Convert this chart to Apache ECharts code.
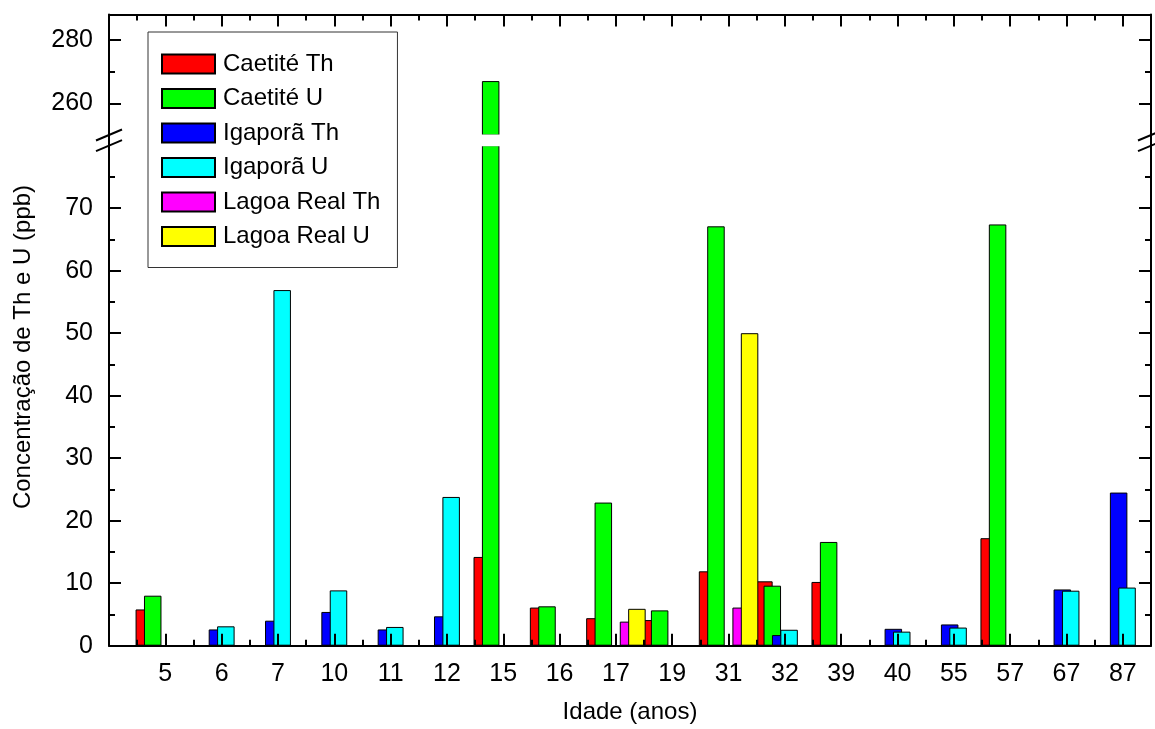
<!DOCTYPE html>
<html>
<head>
<meta charset="utf-8">
<script src="https://cdn.jsdelivr.net/npm/echarts@6/dist/echarts.min.js"></script>
<style>
  html, body { margin: 0; padding: 0; background: #fff; }
  #chart { width: 1155px; height: 729px; }
</style>
</head>
<body>
<div id="chart"></div>
<script>
// Ages (years) on the category axis
const ages = ['5', '6', '7', '10', '11', '12', '15', '16', '17', '19', '31', '32', '39', '40', '55', '57', '67', '87'];

// Th and U concentrations (ppb) per locality, one entry per age
const caetiteTh  = [5.8, null, null, null, null, null, 14.2, 6.1, 4.4, 4.1, 11.9, 10.3, 10.2, null, null, 17.2, null, null];
const caetiteU   = [8.0, null, null, null, null, null, 267.0, 6.3, 22.9, 5.65, 67.1, 9.6, 16.6, null, null, 67.4, null, null];
const igaporaTh  = [null, 2.6, 4.0, 5.4, 2.6, 4.7, null, null, null, null, null, 1.7, null, 2.7, 3.4, null, 9.0, 24.5];
const igaporaU   = [null, 3.1, 56.9, 8.85, 3.0, 23.8, null, null, null, null, null, 2.55, null, 2.25, 2.9, null, 8.8, 9.3];
const lagoaRealTh = [null, null, null, null, null, null, null, null, 3.85, null, 6.1, null, null, null, null, null, null, null];
const lagoaRealU  = [null, null, null, null, null, null, null, null, 5.9, null, 50.0, null, null, null, null, null, null, null];

// Tick values of the broken y axis
const lowerMajorTicks = [0, 10, 20, 30, 40, 50, 60, 70];
const lowerMinorTicks = [5, 15, 25, 35, 45, 55, 65, 75];
const upperMajorTicks = [260, 280];
const upperMinorTicks = [270];
const lowerRange = [0, 80];
const upperRange = [250, 288];

const FONT = "'Liberation Sans', Arial, sans-serif";

// Plot frame (pixels): upper and lower panels separated by the axis break
const frame = { left: 109, right: 1151, top: 14.5, breakTop: 135, breakBottom: 145.7, bottom: 645.7 };

const seriesDefs = [
  { name: 'Caetité Th',    color: '#ff0000', values: caetiteTh },
  { name: 'Caetité U',     color: '#00ff00', values: caetiteU },
  { name: 'Igaporã Th',    color: '#0000ff', values: igaporaTh },
  { name: 'Igaporã U',     color: '#00ffff', values: igaporaU },
  { name: 'Lagoa Real Th', color: '#ff00ff', values: lagoaRealTh },
  { name: 'Lagoa Real U',  color: '#ffff00', values: lagoaRealU }
];

// Category slots on a numeric x axis: age i sits at position i + 1
const majorX = ages.map((_, i) => i + 1);
const minorX = ages.map((_, i) => i + 0.5).concat([ages.length + 0.5]);
const xExtent = [0, ages.length + 0.5];

const axisLine = { show: true, lineStyle: { color: '#000', width: 2 } };
const tickLine = { color: '#000', width: 2 };

function xAxis(gridIndex, position, ticks, len, withLabels, extra) {
  return Object.assign({
    type: 'value', gridIndex, position, min: xExtent[0], max: xExtent[1], z: 5,
    axisLine: withLabels !== null ? axisLine : { show: false },
    splitLine: { show: false },
    axisTick: { show: true, inside: true, length: len, customValues: ticks, lineStyle: tickLine },
    axisLabel: withLabels ? {
      show: true, customValues: ticks, margin: 16, fontSize: 25, fontFamily: FONT, color: '#000',
      formatter: v => ages[v - 1] ?? ''
    } : { show: false }
  }, extra || {});
}

function yAxis(gridIndex, position, range, ticks, len, withLabels, withLine) {
  return {
    type: 'value', gridIndex, position, min: range[0], max: range[1], z: 5,
    axisLine: withLine ? axisLine : { show: false },
    splitLine: { show: false },
    axisTick: { show: true, inside: true, length: len, customValues: ticks, lineStyle: tickLine },
    axisLabel: withLabels ? {
      show: true, customValues: ticks, margin: 16, fontSize: 25, fontFamily: FONT, color: '#000'
    } : { show: false }
  };
}

const xAxes = [
  xAxis(0, 'top', majorX, 12, false),
  xAxis(0, 'top', minorX, 6, null),
  xAxis(1, 'bottom', majorX, 12, true, {
    name: 'Idade (anos)', nameLocation: 'middle', nameGap: 55,
    nameTextStyle: { fontSize: 24, fontFamily: FONT, color: '#000' }
  }),
  xAxis(1, 'bottom', minorX, 6, null)
];

const yAxes = [
  yAxis(0, 'left', upperRange, upperMajorTicks, 12, true, true),
  yAxis(0, 'left', upperRange, upperMinorTicks, 6, false, false),
  yAxis(0, 'right', upperRange, upperMajorTicks, 12, false, true),
  yAxis(0, 'right', upperRange, upperMinorTicks, 6, false, false),
  yAxis(1, 'left', lowerRange, lowerMajorTicks, 12, true, true),
  yAxis(1, 'left', lowerRange, lowerMinorTicks, 6, false, false),
  yAxis(1, 'right', lowerRange, lowerMajorTicks, 12, false, true),
  yAxis(1, 'right', lowerRange, lowerMinorTicks, 6, false, false)
];

function barSeries(def, xAxisIndex, yAxisIndex) {
  return {
    type: 'bar', name: def.name, xAxisIndex, yAxisIndex,
    data: def.values.map((v, i) => [i + 1, v]),
    barWidth: 17.5, barGap: '-52%', clip: true, z: 2,
    itemStyle: { color: def.color, borderColor: '#000', borderWidth: 1 },
    emphasis: { disabled: true }
  };
}

const series = [];
seriesDefs.forEach(d => series.push(barSeries(d, 2, 4)));   // lower panel
seriesDefs.forEach(d => series.push(barSeries(d, 0, 0)));   // upper panel

// Break: blank band between the panels plus slanted marks on both vertical axes
function breakMarks(cx) {
  const els = [{
    type: 'line', z: 100,
    shape: { x1: cx, y1: frame.breakTop - 1, x2: cx, y2: frame.breakBottom + 1 },
    style: { stroke: '#000', lineWidth: 2 }
  }];
  [frame.breakTop, frame.breakBottom].forEach(cy => {
    els.push({
      type: 'line', z: 100,
      shape: { x1: cx - 13, y1: cy + 5.5, x2: cx + 13, y2: cy - 5.5 },
      style: { stroke: '#000', lineWidth: 2 }
    });
  });
  return els;
}

const breakBand = {
  type: 'rect', z: 3,
  shape: { x: frame.left + 1, y: frame.breakTop - 0.6, width: frame.right - frame.left - 2,
           height: frame.breakBottom - frame.breakTop + 1.2 },
  style: { fill: '#fff' }
};

const chart = echarts.init(document.getElementById('chart'), null, { renderer: 'canvas' });
chart.setOption({
  animation: false,
  backgroundColor: '#fff',
  grid: [
    { left: frame.left, top: frame.top, width: frame.right - frame.left,
      height: frame.breakTop - frame.top, outerBoundsMode: 'none' },
    { left: frame.left, top: frame.breakBottom, width: frame.right - frame.left,
      height: frame.bottom - frame.breakBottom, outerBoundsMode: 'none' }
  ],
  xAxis: xAxes,
  yAxis: yAxes,
  legend: {
    orient: 'vertical', left: 148, top: 32, z: 20,
    padding: [20, 17, 19, 13],
    itemWidth: 53, itemHeight: 19, itemGap: 10.5,
    borderColor: '#333', borderWidth: 1, backgroundColor: '#fff',
    selectedMode: false, icon: 'rect',
    textStyle: { fontSize: 24, fontFamily: FONT, color: '#000', lineHeight: 19, padding: [0, 0, 0, 3] },
    data: seriesDefs.map(d => d.name)
  },
  graphic: [
    breakBand,
    {
      type: 'text', x: 23, y: 347, rotation: Math.PI / 2, z: 100,
      style: {
        text: 'Concentração de Th e U (ppb)', fontSize: 24, fontFamily: FONT,
        fill: '#000', align: 'center', verticalAlign: 'middle'
      }
    }
  ].concat(breakMarks(frame.left), breakMarks(frame.right)),
  series
});
</script>
</body>
</html>
